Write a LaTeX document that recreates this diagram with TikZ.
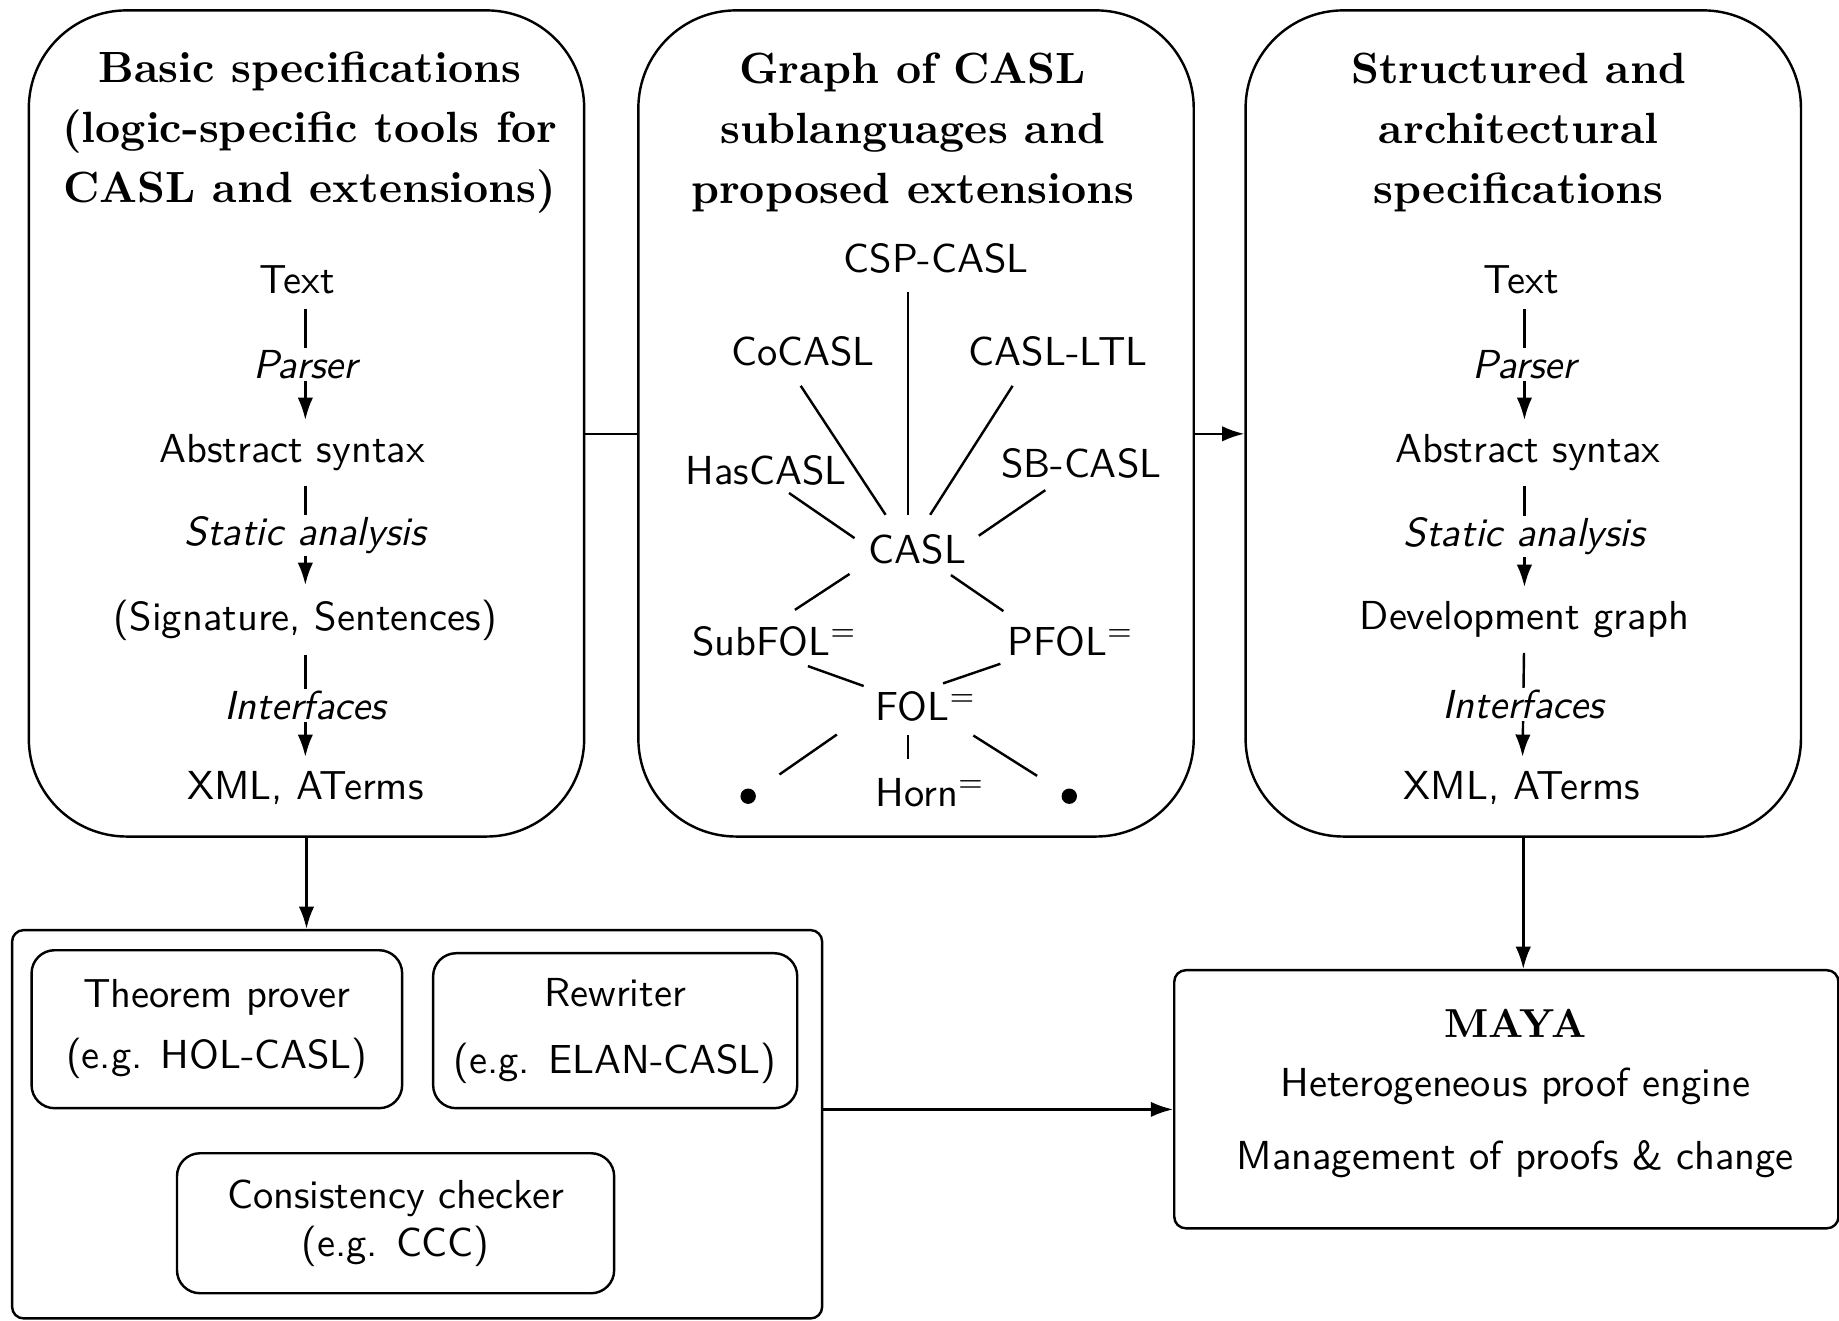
\documentclass[tikz,border=0pt]{standalone}
\usetikzlibrary{arrows.meta}
\tikzset{
	bigbox/.style={draw, rounded corners=0.85cm, minimum width=4.82cm, minimum height=7.17cm},
	boxtitle/.style={align=center, font=\fontsize{10.8}{14.8}\selectfont\bfseries},
	flowitem/.style={font=\sffamily},
	flowlabel/.style={fill=white, inner sep=0.5pt, font=\sffamily\itshape},
	lang/.style={font=\sffamily, inner sep=4.5pt},
	blob/.style={circle, fill, inner sep=0pt, minimum size=3.8pt, outer sep=7.5pt},
	frame/.style={draw, rounded corners=0.1cm},
	toolbox/.style={draw, rounded corners=0.2cm, align=center, font=\sffamily}
}
\begin{document}
\begin{tikzpicture}[>={Latex[length=5.5pt,width=3.8pt]}, line width=0.6pt]
	\useasboundingbox (0,0) rectangle (15.96,-11.46);
	\node[bigbox] (basic) at (2.66,-3.675) {};
	\node[bigbox] (graph) at (7.95,-3.675) {};
	\node[bigbox] (struct) at (13.22,-3.675) {};
	\node[boxtitle] (basictitle) at (2.69,-1.15) {Basic specifications\\(logic-specific tools for\\CASL and extensions)};
	\node[boxtitle] (graphtitle) at (7.92,-1.15) {Graph of CASL\\sublanguages and\\proposed extensions};
	\node[boxtitle] (structtitle) at (13.18,-1.15) {Structured and\\architectural\\specifications};
	% basic specifications
	\node[flowitem] (btext) at (2.58,-2.43) {Text};
	\node[flowitem] (babs) at (2.535,-3.93) {Abstract syntax};
	\node[flowitem] (bsig) at (2.65,-5.38) {(Signature, Sentences)};
	\node[flowitem] (bxml) at (2.65,-6.84) {XML, ATerms};
	\draw[->] (btext.south -| bsig) -- node[flowlabel] {Parser} (babs.north -| bsig);
	\draw[->] (babs.south -| bsig) -- node[flowlabel] {Static analysis} (bsig);
	\draw[->] (bsig) -- node[flowlabel] {Interfaces} (bxml);
	% structured specifications
	\node[flowitem] (stext) at (13.20,-2.43) {Text};
	\node[flowitem] (sabs) at (13.26,-3.93) {Abstract syntax};
	\node[flowitem] (sdev) at (13.23,-5.38) {Development graph};
	\node[flowitem] (sxml) at (13.21,-6.84) {XML, ATerms};
	\draw[->] (stext.south -| sdev) -- node[flowlabel] {Parser} (sabs.north -| sdev);
	\draw[->] (sabs.south -| sdev) -- node[flowlabel] {Static analysis} (sdev);
	\draw[->] (sdev) -- node[flowlabel] {Interfaces} (sxml);
	% graph of sublanguages
	\node[lang] (csp) at (8.125,-2.24) {CSP-CASL};
	\node[lang] (cocasl) at (6.97,-3.05) {CoCASL};
	\node[lang] (ltl) at (9.184,-3.05) {CASL-LTL};
	\node[lang] (has) at (6.649,-4.08) {HasCASL};
	\node[lang] (sb) at (9.384,-4.023) {SB-CASL};
	\node[lang] (casl) at (7.964,-4.766) {CASL};
	\node[lang] (subfol) at (6.723,-5.564) {SubFOL$^=$};
	\node[lang] (pfol) at (9.293,-5.564) {PFOL$^=$};
	\node[lang] (fol) at (8.038,-6.128) {FOL$^=$};
	\node[lang] (horn) at (8.073,-6.879) {Horn$^=$};
	\node[blob] (bl) at (6.493,-6.91) {};
	\node[blob] (br) at (9.28,-6.91) {};
	\coordinate (axis) at (7.882,-4.766);
	\draw (axis |- csp.south) -- (axis |- casl.north);
	\draw (cocasl.266) -- (casl.133);
	\draw (ltl.217) -- (casl.70);
	\draw[shorten <=-5pt, shorten >=-1.5pt] (has.319) -- (casl.168);
	\draw[shorten <=-3.4pt, shorten >=-2.1pt] (sb.216) -- (casl.15);
	\draw[shorten >=-1.4pt] (casl.200) -- (subfol.54);
	\draw[shorten <=-3.7pt, shorten >=-1.9pt] (casl.323) -- (pfol.155);
	\draw[shorten <=-6.9pt, shorten >=-1.9pt] (subfol.330) -- (fol.162);
	\draw[shorten <=-3.2pt, shorten >=-8.9pt] (pfol.198) -- (fol.34);
	\draw[shorten <=5.9pt] (fol.192) -- (bl);
	\draw[shorten <=-1.3pt] (axis |- fol.south) -- (axis |- horn.north);
	\draw[shorten <=-2.3pt] (fol.328) -- (br);
	% tools
	\node[frame, minimum width=7.03cm, minimum height=3.37cm] (tools) at (3.62,-9.757) {};
	\node[toolbox, minimum width=3.216cm, minimum height=1.371cm] (prover) at (1.882,-8.932) {Theorem prover\\[3pt](e.g. HOL-CASL)};
	\node[toolbox, minimum width=3.16cm, minimum height=1.345cm] (rewriter) at (5.339,-8.945) {Rewriter\\[4.5pt](e.g. ELAN-CASL)};
	\node[toolbox, minimum width=3.794cm, minimum height=1.215cm] (checker) at (3.433,-10.616) {Consistency checker\\(e.g. CCC)};
	\node[frame, minimum width=5.764cm, minimum height=2.24cm] (maya) at (13.073,-9.54) {};
	\node[align=center, font=\sffamily] (mayatext) at (13.15,-9.49) {{\rmfamily\bfseries MAYA}\\[2.5pt]Heterogeneous proof engine\\[6pt]Management of proofs \& change};
	% connectors
	\draw ([yshift=-0.9mm]basic.east) -- ([yshift=-0.9mm]graph.west);
	\draw[->] ([yshift=-0.9mm]graph.east) -- ([yshift=-0.9mm]struct.west);
	\draw[->] (basic.south) -- (tools.north -| basic.south);
	\draw[->] (struct.south) -- (maya.north -| struct.south);
	\draw[->] (rewriter.south -| tools.east) -- (rewriter.south -| maya.west);
\end{tikzpicture}
\end{document}
